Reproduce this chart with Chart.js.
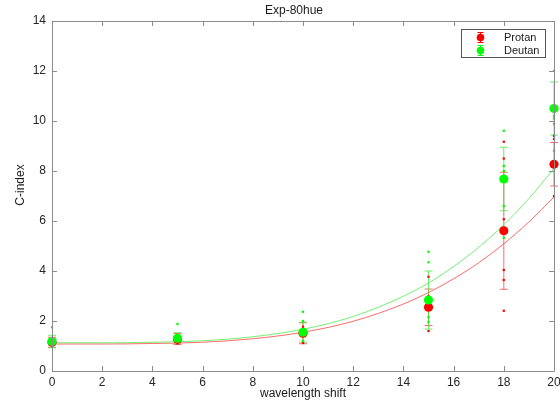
<!DOCTYPE html>
<html>
<head>
<meta charset="utf-8">
<script src="https://cdn.jsdelivr.net/npm/chart.js@4.4.0/dist/chart.umd.min.js"></script>
<style>
  html, body { margin: 0; padding: 0; background: #fff; }
  #wrap { width: 560px; height: 405px; }
</style>
</head>
<body>
<div id="wrap"><canvas id="c"></canvas></div>
<script>
(function () {
  "use strict";

  // wavelength shifts and group means / sd
  var shifts = [0, 5, 10, 15, 18, 20];
  var protanMean = [1.15, 1.28, 1.51, 2.55, 5.61, 8.27];
  var protanSd = [0.2, 0.22, 0.42, 0.73, 2.34, 0.87];
  var deutanMean = [1.18, 1.31, 1.55, 2.84, 7.68, 10.5];
  var deutanSd = [0.25, 0.22, 0.4, 1.16, 1.27, 1.06];

  // individual observers
  var protanDotX = [0, 0, 0, 5, 5, 5, 10, 10, 10, 10, 15, 15, 15, 15, 18, 18, 18, 18, 18, 18, 20, 20, 20, 20];
  var protanDotY = [1.05, 1.2, 1.3, 1.1, 1.2, 1.4, 1.77, 1.12, 1.4, 1.6, 3.77, 1.6, 2.5, 3.0, 9.17, 8.5, 6.07, 4.04, 3.64, 2.41, 9.4, 9.28, 7.0, 8.2];
  var deutanDotX = [0, 0, 0, 5, 5, 5, 10, 10, 10, 15, 15, 15, 15, 18, 18, 18, 18, 18, 20, 20, 20, 20, 20];
  var deutanDotY = [1.75, 1.1, 1.0, 1.88, 1.2, 1.35, 2.37, 2.0, 1.2, 4.77, 4.35, 2.15, 1.97, 9.61, 8.2, 8.0, 6.6, 5.33, 12.0, 10.2, 10.1, 9.88, 8.81];

  // fitted curves
  var fitX = [0, 2, 4, 6, 8, 10, 12, 14, 15, 16, 17, 18, 19, 20];
  var protanFit = [1.08, 1.08, 1.1, 1.15, 1.29, 1.55, 1.99, 2.68, 3.14, 3.69, 4.33, 5.09, 5.96, 6.96];
  var deutanFit = [1.13, 1.13, 1.15, 1.21, 1.37, 1.67, 2.18, 2.99, 3.52, 4.18, 4.95, 5.85, 6.9, 8.1];

  var xTicks = [0, 2, 4, 6, 8, 10, 12, 14, 16, 18, 20];
  var yTicks = [0, 2, 4, 6, 8, 10, 12, 14];

  var RED = "#ff0000";
  var GREEN = "#00ff00";
  var FONT = "'Liberation Sans', Arial, Helvetica, sans-serif";

  function pts(xs, ys) {
    return xs.map(function (x, i) { return { x: x, y: ys[i] }; });
  }

  function dots(xs, ys, color) {
    return { type: "scatter", data: pts(xs, ys), pointStyle: "rect", pointRadius: 1.6,
      backgroundColor: color, borderWidth: 0, clip: false };
  }

  function fit(ys, color) {
    return { type: "scatter", data: pts(fitX, ys), showLine: true, pointRadius: 0,
      borderColor: color, borderWidth: 1, cubicInterpolationMode: "monotone", fill: false };
  }

  function means(ys, color) {
    return { type: "scatter", data: pts(shifts, ys), pointStyle: "circle", pointRadius: 4.6,
      backgroundColor: color, borderWidth: 0, clip: false };
  }

  function noPad(s) {
    s.paddingLeft = 0; s.paddingRight = 0; s.paddingTop = 0; s.paddingBottom = 0;
  }

  var errorBars = {
    id: "errorBars",
    beforeDatasetsDraw: function (chart) {
      var ctx = chart.ctx, xs = chart.scales.x, ys = chart.scales.y;
      function draw(m, sd, color) {
        ctx.strokeStyle = color;
        ctx.lineWidth = 1;
        shifts.forEach(function (s, i) {
          var px = xs.getPixelForValue(s);
          var top = ys.getPixelForValue(m[i] + sd[i]);
          var bot = ys.getPixelForValue(m[i] - sd[i]);
          ctx.beginPath();
          ctx.moveTo(px, top); ctx.lineTo(px, bot);
          ctx.moveTo(px - 4, top); ctx.lineTo(px + 4, top);
          ctx.moveTo(px - 4, bot); ctx.lineTo(px + 4, bot);
          ctx.stroke();
        });
      }
      ctx.save();
      draw(protanMean, protanSd, "rgba(255,60,60,0.75)");
      draw(deutanMean, deutanSd, "rgba(60,230,60,0.75)");
      ctx.restore();
    },
  };

  var frame = {
    id: "frame",
    afterDraw: function (chart) {
      var ctx = chart.ctx, a = chart.chartArea, xs = chart.scales.x, ys = chart.scales.y;
      ctx.save();
      ctx.strokeStyle = "#8c8c8c";
      ctx.lineWidth = 1;
      ctx.beginPath();
      ctx.rect(Math.round(a.left) + 0.5, Math.round(a.top) + 0.5,
        Math.round(a.right - a.left), Math.round(a.bottom - a.top));
      xTicks.forEach(function (t) {
        var px = Math.round(xs.getPixelForValue(t)) + 0.5;
        ctx.moveTo(px, a.bottom); ctx.lineTo(px, a.bottom - 5);
        ctx.moveTo(px, a.top); ctx.lineTo(px, a.top + 5);
      });
      yTicks.forEach(function (t) {
        var py = Math.round(ys.getPixelForValue(t)) + 0.5;
        ctx.moveTo(a.left, py); ctx.lineTo(a.left + 5, py);
        ctx.moveTo(a.right, py); ctx.lineTo(a.right - 5, py);
      });
      ctx.stroke();

      // title and y label
      ctx.fillStyle = "#1a1a1a";
      ctx.font = "12px " + FONT;
      ctx.textAlign = "center";
      ctx.textBaseline = "middle";
      ctx.fillText("Exp-80hue", 294, 11);
      ctx.save();
      ctx.translate(21, 185);
      ctx.rotate(-Math.PI / 2);
      ctx.fillText("C-index", 0, 0);
      ctx.restore();

      // legend box
      ctx.fillStyle = "#fff";
      ctx.fillRect(462, 30, 84, 28);
      ctx.strokeStyle = "#555";
      ctx.strokeRect(461.5, 29.5, 84, 28);
      [["Protan", RED, 37.5], ["Deutan", GREEN, 50.5]].forEach(function (e) {
        var cx = 480.5, cy = e[2];
        ctx.strokeStyle = e[1];
        ctx.beginPath();
        ctx.moveTo(cx, cy - 5); ctx.lineTo(cx, cy + 5);
        ctx.moveTo(cx - 3, cy - 5); ctx.lineTo(cx + 3, cy - 5);
        ctx.moveTo(cx - 3, cy + 5); ctx.lineTo(cx + 3, cy + 5);
        ctx.stroke();
        ctx.fillStyle = e[1];
        ctx.beginPath();
        ctx.arc(cx, cy, 3.8, 0, Math.PI * 2);
        ctx.fill();
        ctx.fillStyle = "#1a1a1a";
        ctx.font = "11px " + FONT;
        ctx.textAlign = "left";
        ctx.fillText(e[0], 504, cy);
      });
      ctx.restore();
    },
  };

  // Chart.js paints lower dataset indexes on top, so green comes first
  new Chart(document.getElementById("c").getContext("2d"), {
    type: "scatter",
    data: {
      datasets: [
        means(deutanMean, GREEN),
        means(protanMean, RED),
        dots(deutanDotX, deutanDotY, GREEN),
        dots(protanDotX, protanDotY, RED),
        fit(deutanFit, "rgba(80,235,80,0.8)"),
        fit(protanFit, "rgba(255,70,70,0.8)"),
      ],
    },
    options: {
      responsive: true,
      maintainAspectRatio: false,
      animation: false,
      events: [],
      layout: { autoPadding: false, padding: { top: 21, right: 6, left: 0, bottom: 0 } },
      scales: {
        x: {
          type: "linear",
          min: 0,
          max: 20,
          afterBuildTicks: function (s) { s.ticks = xTicks.map(function (v) { return { value: v }; }); },
          afterFit: function (s) { s.height = 34; noPad(s); },
          grid: { display: false, drawTicks: false },
          border: { display: false },
          ticks: { padding: 4, color: "#262626", font: { family: FONT, size: 12 }, maxRotation: 0 },
          title: { display: true, text: "wavelength shift", color: "#1a1a1a",
            font: { family: FONT, size: 12 }, padding: { top: 0, bottom: 4 } },
        },
        y: {
          type: "linear",
          min: 0,
          max: 14,
          afterBuildTicks: function (s) { s.ticks = yTicks.map(function (v) { return { value: v }; }); },
          afterFit: function (s) { s.width = 52; noPad(s); },
          grid: { display: false, drawTicks: false },
          border: { display: false },
          ticks: { padding: 6, color: "#262626", font: { family: FONT, size: 12 } },
        },
      },
      plugins: {
        legend: { display: false },
        tooltip: { enabled: false },
        title: { display: false },
      },
    },
    plugins: [errorBars, frame],
  });
})();
</script>
</body>
</html>
